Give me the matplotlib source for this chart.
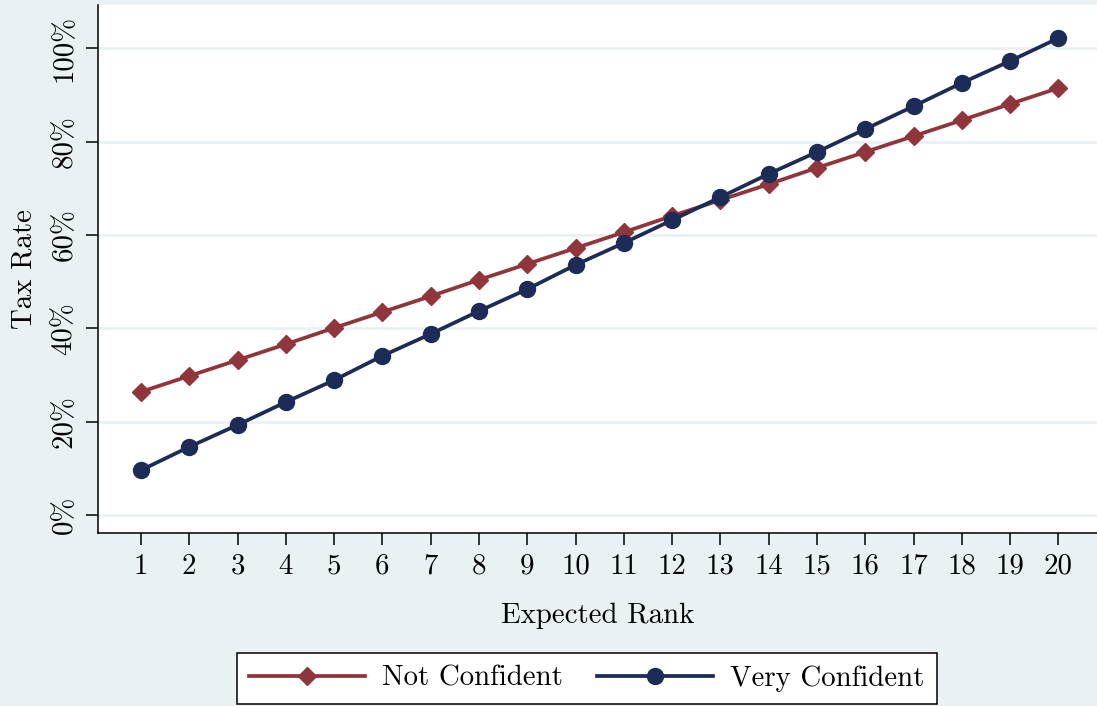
import numpy as np
import matplotlib
matplotlib.use("Agg")
import matplotlib.pyplot as plt

ranks = list(range(1, 21))
not_confident = [26.4, 29.8, 33.2, 36.6, 40.1, 43.5, 46.9, 50.4, 53.8, 57.2,
                 60.6, 64.1, 67.5, 70.9, 74.4, 77.8, 81.2, 84.6, 88.1, 91.5]
very_confident = [9.6, 14.6, 19.3, 24.2, 28.9, 34.1, 38.8, 43.7, 48.4, 53.6,
                  58.3, 63.2, 68.1, 73.1, 77.8, 82.7, 87.6, 92.6, 97.3, 102.2]
yticks = [0, 20, 40, 60, 80, 100]
ytick_labels = ["0%", "20%", "40%", "60%", "80%", "100%"]
series_names = ["Not Confident", "Very Confident"]

plt.rcParams['font.family'] = ['cmr10', 'DejaVu Serif']
plt.rcParams['font.size'] = 20.8

bg = '#EAF1F3'
red = '#90353B'
navy = '#1D2C56'

fig = plt.figure(figsize=(10.97, 7.06), dpi=100, facecolor=bg)
ax = fig.add_axes([0.0893, 0.245, 1 - 0.0893, 0.9929 - 0.245])
ax.set_facecolor('white')

ax.plot(ranks, not_confident, color=red, lw=2.7, marker='D', ms=9.5,
        label=series_names[0], zorder=3)
ax.plot(ranks, very_confident, color=navy, lw=2.7, marker='o', ms=11.5,
        label=series_names[1], zorder=4)

ax.set_xlim(0.11, 20.8)
ax.set_ylim(-3.86, 109.3)
ax.set_xticks(ranks)
ax.set_xticklabels([str(r) for r in ranks])
ax.set_yticks(yticks)
ax.set_yticklabels(ytick_labels, rotation=90, va='center')
ax.grid(axis='y', color=bg, lw=2)
ax.set_axisbelow(True)

for s in ['top', 'right']:
    ax.spines[s].set_visible(False)
for s in ['left', 'bottom']:
    ax.spines[s].set_linewidth(1.1)
ax.tick_params(length=8.5, width=1.1, pad=6)

ax.set_xlabel("Expected Rank", labelpad=17)
ax.set_ylabel("Tax Rate", labelpad=10)

leg = fig.legend(loc='lower center', bbox_to_anchor=(0.535, 0.003), ncol=2,
                 frameon=True, fancybox=False, framealpha=1, handlelength=4,
                 handletextpad=0.6, columnspacing=1.2, borderpad=0.42,
                 borderaxespad=0)
leg.get_frame().set_edgecolor('black')
leg.get_frame().set_linewidth(1.1)

fig.savefig("out.png", dpi=100, facecolor=bg)
